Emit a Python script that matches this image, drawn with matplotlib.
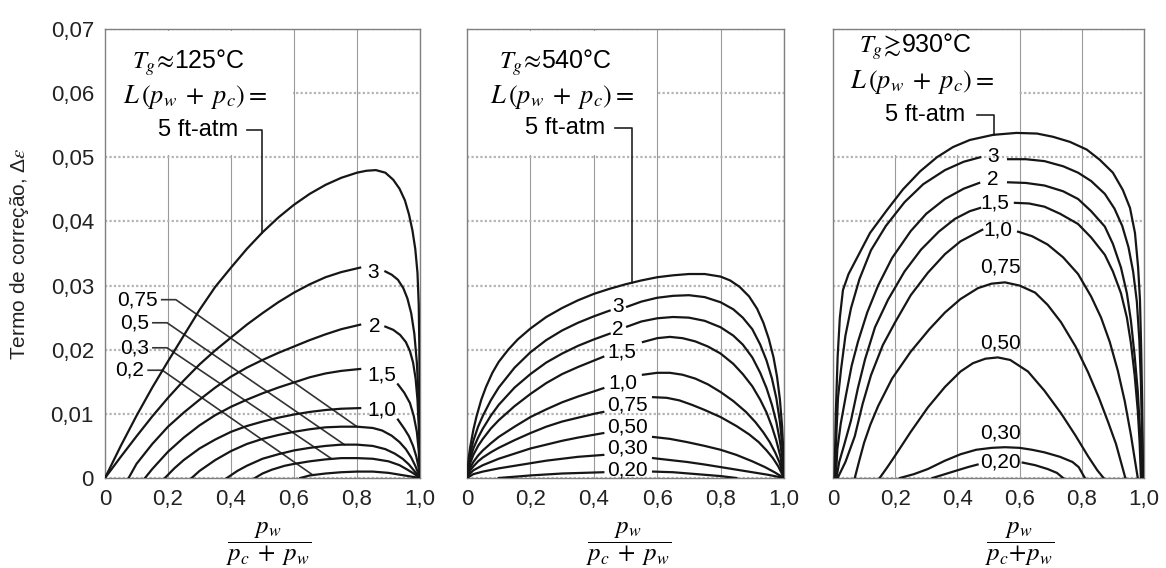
import numpy as np
import matplotlib.pyplot as plt
from matplotlib.patches import Rectangle

plt.rcParams['font.family'] = ['Liberation Sans', 'DejaVu Sans']
plt.rcParams['mathtext.fontset'] = 'stix'

# ------------------------------------------------------------------
# valores
# ------------------------------------------------------------------
x_ticks = [0, 0.2, 0.4, 0.6, 0.8, 1.0]
x_tick_labels = ['0', '0,2', '0,4', '0,6', '0,8', '1,0']
y_ticks = [0, 0.01, 0.02, 0.03, 0.04, 0.05, 0.06, 0.07]
y_tick_labels = ['0', '0,01', '0,02', '0,03', '0,04', '0,05', '0,06', '0,07']

# Tg ~ 125 C   (None = curva interrompida pelo rótulo)
c125_5 = [(0, 0), (0.05, 0.0050), (0.1, 0.0097), (0.15, 0.0141), (0.2, 0.0182), (0.25, 0.0222),
          (0.3, 0.0262), (0.35, 0.0298), (0.4, 0.0328), (0.45, 0.0357), (0.5, 0.0383), (0.55, 0.0406),
          (0.6, 0.0426), (0.65, 0.0443), (0.7, 0.0457), (0.75, 0.0468), (0.8, 0.0476), (0.83, 0.0479),
          (0.86, 0.0480), (0.89, 0.0476), (0.915, 0.0465), (0.935, 0.0451), (0.952, 0.0433),
          (0.965, 0.0411), (0.976, 0.0386), (0.985, 0.0357), (0.992, 0.0320), (0.996, 0.027),
          (0.998, 0.020), (0.999, 0.010), (1.0, 0)]
c125_3 = [(0, 0), (0.05, 0.0033), (0.1, 0.0065), (0.15, 0.0096), (0.2, 0.0125), (0.25, 0.0152),
          (0.3, 0.0177), (0.35, 0.0199), (0.4, 0.0219), (0.45, 0.0239), (0.5, 0.0257), (0.55, 0.0274),
          (0.6, 0.0289), (0.65, 0.0302), (0.7, 0.0313), (0.75, 0.0321), (0.81, 0.0328), None,
          (0.89, 0.0322), (0.91, 0.0317), (0.93, 0.0309), (0.947, 0.0296), (0.96, 0.0280),
          (0.972, 0.0257), (0.982, 0.0225), (0.99, 0.0180), (0.995, 0.0130), (0.998, 0.0070), (1.0, 0)]
c125_2 = [(0.075, 0), (0.1, 0.0022), (0.15, 0.0053), (0.2, 0.0080), (0.25, 0.0102), (0.3, 0.0122),
          (0.35, 0.0141), (0.4, 0.0158), (0.45, 0.0172), (0.5, 0.0184), (0.55, 0.0195), (0.6, 0.0205),
          (0.65, 0.0215), (0.7, 0.0224), (0.75, 0.0232), (0.81, 0.0239), None, (0.89, 0.0236),
          (0.915, 0.0231), (0.937, 0.0223), (0.955, 0.0212), (0.968, 0.0198), (0.978, 0.0180),
          (0.986, 0.0155), (0.992, 0.0122), (0.996, 0.0080), (1.0, 0)]
c125_15 = [(0.127, 0), (0.15, 0.0014), (0.2, 0.0041), (0.25, 0.0063), (0.3, 0.0082), (0.35, 0.0098),
           (0.4, 0.0111), (0.45, 0.0122), (0.5, 0.0132), (0.55, 0.0141), (0.6, 0.0149), (0.65, 0.0157),
           (0.7, 0.0163), (0.75, 0.0167), (0.81, 0.0170), None, (0.93, 0.0146), (0.95, 0.0133),
           (0.968, 0.0117), (0.98, 0.0097), (0.99, 0.0072), (0.996, 0.0042), (1.0, 0)]
c125_10 = [(0.19, 0), (0.22, 0.0015), (0.25, 0.0028), (0.3, 0.0046), (0.35, 0.0060), (0.4, 0.0072),
           (0.45, 0.0081), (0.5, 0.0088), (0.55, 0.0094), (0.6, 0.0099), (0.65, 0.0103), (0.7, 0.0106),
           (0.75, 0.0108), (0.81, 0.0109), None, (0.93, 0.0091), (0.95, 0.0077), (0.965, 0.0065),
           (0.978, 0.0050), (0.988, 0.0034), (0.995, 0.0018), (1.0, 0)]
c125_075 = [(0.275, 0), (0.3, 0.0011), (0.35, 0.0028), (0.4, 0.0042), (0.45, 0.0053), (0.5, 0.0061),
            (0.55, 0.0067), (0.6, 0.0072), (0.65, 0.0076), (0.7, 0.0079), (0.75, 0.0080), (0.8, 0.0080),
            (0.85, 0.0078), (0.88, 0.0074), (0.91, 0.0066), (0.935, 0.0056), (0.955, 0.0045),
            (0.972, 0.0032), (0.986, 0.0018), (1.0, 0)]
c125_05 = [(0.387, 0), (0.42, 0.0011), (0.45, 0.0019), (0.5, 0.0030), (0.55, 0.0037), (0.6, 0.0043),
           (0.65, 0.0047), (0.7, 0.0050), (0.75, 0.0052), (0.8, 0.0052), (0.85, 0.0050), (0.89, 0.0045),
           (0.92, 0.0038), (0.945, 0.0030), (0.965, 0.0021), (0.982, 0.0011), (1.0, 0)]
c125_03 = [(0.476, 0), (0.5, 0.0007), (0.53, 0.0013), (0.57, 0.0019), (0.6, 0.0022), (0.65, 0.0026),
           (0.7, 0.0029), (0.75, 0.0031), (0.8, 0.0031), (0.85, 0.0030), (0.9, 0.0026), (0.935, 0.0020),
           (0.96, 0.0013), (0.98, 0.0007), (1.0, 0)]
c125_02 = [(0.62, 0), (0.65, 0.0004), (0.7, 0.0007), (0.75, 0.0009), (0.8, 0.0010), (0.85, 0.0010),
           (0.9, 0.0008), (0.95, 0.0004), (1.0, 0)]
curves_125 = [c125_5, c125_3, c125_2, c125_15, c125_10, c125_075, c125_05, c125_03, c125_02]
inline_125 = ['3', '2', '1,5', '1,0']
inline_125_pos = [(0.851, 0.0321), (0.857, 0.0236), (0.88, 0.0161), (0.88, 0.0106)]
side_125 = ['0,75', '0,5', '0,3', '0,2']
side_125_y = [0.0278, 0.0242, 0.0203, 0.0168]
side_125_start = [0.18, 0.152, 0.152, 0.137]
side_125_end = [0.80, 0.76, 0.72, 0.66]     # onde a linha de chamada toca a curva
side_125_curves = [c125_075, c125_05, c125_03, c125_02]

# Tg ~ 540 C
c540_5 = [(0, 0), (0.005, 0.0030), (0.01, 0.0048), (0.02, 0.0075), (0.03, 0.0096), (0.045, 0.0122),
          (0.06, 0.0142), (0.08, 0.0164), (0.1, 0.0181), (0.13, 0.0200), (0.16, 0.0216), (0.2, 0.0233),
          (0.25, 0.0251), (0.3, 0.0265), (0.35, 0.0277), (0.4, 0.0287), (0.45, 0.0295), (0.5, 0.0302),
          (0.55, 0.0308), (0.6, 0.0313), (0.65, 0.0316), (0.7, 0.0318), (0.75, 0.0318), (0.8, 0.0314),
          (0.83, 0.0308), (0.86, 0.0298), (0.89, 0.0283), (0.915, 0.0264), (0.935, 0.0242),
          (0.952, 0.0217), (0.967, 0.0188), (0.978, 0.0158), (0.987, 0.0123), (0.994, 0.0080),
          (0.998, 0.0040), (1.0, 0)]
c540_3 = [(0, 0), (0.01, 0.0038), (0.02, 0.0058), (0.035, 0.0080), (0.05, 0.0097), (0.075, 0.0121),
          (0.1, 0.0141), (0.15, 0.0172), (0.2, 0.0196), (0.25, 0.0215), (0.3, 0.0230), (0.35, 0.0242),
          (0.4, 0.0252), (0.45, 0.0261), None, (0.505, 0.0267), (0.55, 0.0275), (0.6, 0.0281),
          (0.65, 0.0284), (0.7, 0.0285), (0.75, 0.0282), (0.8, 0.0274), (0.84, 0.0263), (0.87, 0.0250),
          (0.9, 0.0232), (0.925, 0.0208), (0.945, 0.0183), (0.962, 0.0155), (0.976, 0.0124),
          (0.987, 0.0088), (0.995, 0.0048), (1.0, 0)]
c540_2 = [(0, 0), (0.01, 0.0030), (0.02, 0.0046), (0.035, 0.0063), (0.05, 0.0077), (0.075, 0.0097),
          (0.1, 0.0114), (0.15, 0.0141), (0.2, 0.0162), (0.25, 0.0180), (0.3, 0.0194), (0.35, 0.0206),
          (0.4, 0.0216), (0.45, 0.0225), None, (0.505, 0.0236), (0.55, 0.0244), (0.6, 0.0249),
          (0.65, 0.0251), (0.7, 0.0250), (0.75, 0.0245), (0.8, 0.0235), (0.84, 0.0222), (0.87, 0.0208),
          (0.9, 0.0188), (0.925, 0.0164), (0.945, 0.0140), (0.962, 0.0114), (0.976, 0.0087),
          (0.987, 0.0058), (0.995, 0.0030), (1.0, 0)]
c540_15 = [(0, 0), (0.01, 0.0023), (0.02, 0.0036), (0.035, 0.0050), (0.05, 0.0061), (0.075, 0.0077),
           (0.1, 0.0090), (0.15, 0.0112), (0.2, 0.0131), (0.25, 0.0148), (0.3, 0.0162), (0.35, 0.0173),
           (0.4, 0.0183), (0.43, 0.0189), None, (0.555, 0.0212), (0.6, 0.0218), (0.64, 0.0220),
           (0.68, 0.0218), (0.72, 0.0213), (0.76, 0.0205), (0.8, 0.0194), (0.84, 0.0178), (0.87, 0.0162),
           (0.9, 0.0143), (0.925, 0.0122), (0.945, 0.0102), (0.962, 0.0080), (0.976, 0.0058),
           (0.988, 0.0035), (1.0, 0)]
c540_10 = [(0, 0), (0.01, 0.0016), (0.02, 0.0025), (0.035, 0.0035), (0.05, 0.0043), (0.075, 0.0054),
           (0.1, 0.0064), (0.15, 0.0080), (0.2, 0.0095), (0.25, 0.0107), (0.3, 0.0118), (0.35, 0.0127),
           (0.4, 0.0135), (0.43, 0.0140), None, (0.555, 0.0161), (0.6, 0.0164), (0.64, 0.0164),
           (0.68, 0.0161), (0.72, 0.0155), (0.76, 0.0146), (0.8, 0.0134), (0.84, 0.0120), (0.88, 0.0103),
           (0.91, 0.0087), (0.935, 0.0071), (0.955, 0.0056), (0.972, 0.0040), (0.986, 0.0024), (1.0, 0)]
c540_075 = [(0, 0), (0.01, 0.0012), (0.02, 0.0018), (0.035, 0.0026), (0.05, 0.0032), (0.075, 0.0040),
            (0.1, 0.0047), (0.15, 0.0059), (0.2, 0.0070), (0.25, 0.0080), (0.3, 0.0088), (0.35, 0.0094),
            (0.4, 0.0100), (0.43, 0.0103), None, (0.587, 0.0126), (0.63, 0.0125), (0.67, 0.0121),
            (0.71, 0.0114), (0.75, 0.0106), (0.8, 0.0095), (0.85, 0.0081), (0.89, 0.0068), (0.92, 0.0056),
            (0.945, 0.0043), (0.965, 0.0031), (0.982, 0.0018), (1.0, 0)]
c540_05 = [(0, 0), (0.01, 0.0007), (0.02, 0.0012), (0.05, 0.0020), (0.1, 0.0030), (0.15, 0.0038),
           (0.2, 0.0046), (0.25, 0.0052), (0.3, 0.0058), (0.35, 0.0063), (0.43, 0.0070), None,
           (0.587, 0.0064), (0.64, 0.0061), (0.694, 0.0056), (0.75, 0.0050), (0.8, 0.0044), (0.85, 0.0036),
           (0.9, 0.0026), (0.94, 0.0017), (0.97, 0.0009), (1.0, 0)]
c540_03 = [(0, 0), (0.02, 0.0006), (0.05, 0.0010), (0.1, 0.0015), (0.15, 0.0019), (0.2, 0.0023),
           (0.25, 0.0027), (0.3, 0.0030), (0.35, 0.0033), (0.43, 0.0036), None, (0.587, 0.0031),
           (0.64, 0.0028), (0.694, 0.0025), (0.75, 0.0021), (0.8, 0.0017), (0.85, 0.0013), (0.9, 0.0009),
           (0.95, 0.0005), (1.0, 0)]
c540_02 = [(0.1, 0), (0.15, 0.0002), (0.2, 0.0004), (0.3, 0.0007), (0.43, 0.0009), None,
           (0.587, 0.0010), (0.65, 0.0009), (0.7, 0.0007), (0.75, 0.0005), (0.8, 0.0003), (0.85, 0)]
curves_540 = [c540_5, c540_3, c540_2, c540_15, c540_10, c540_075, c540_05, c540_03, c540_02]
inline_540 = ['3', '2', '1,5', '1,0', '0,75', '0,50', '0,30', '0,20']
inline_540_pos = [(0.476, 0.0267), (0.476, 0.0231), (0.489, 0.0197), (0.493, 0.0148),
                  (0.505, 0.0114), (0.505, 0.0080), (0.505, 0.0047), (0.505, 0.0012)]

# Tg >~ 930 C
c930_5 = [(0.005, 0), (0.009, 0.010), (0.015, 0.019), (0.022, 0.025), (0.032, 0.0293), (0.05, 0.0318),
          (0.077, 0.0343), (0.119, 0.0382), (0.174, 0.0418), (0.225, 0.0450), (0.28, 0.0478),
          (0.334, 0.0500), (0.386, 0.0516), (0.44, 0.0527), (0.515, 0.0535), (0.59, 0.0538),
          (0.656, 0.0537), (0.707, 0.0532), (0.762, 0.0524), (0.816, 0.0512), (0.858, 0.0496),
          (0.9, 0.0476), (0.932, 0.0449), (0.955, 0.0421), (0.971, 0.0382), (0.981, 0.0329),
          (0.987, 0.0278), (0.991, 0.020), (0.994, 0.012), (0.996, 0.005), (0.997, 0)]
c930_3 = [(0.007, 0), (0.011, 0.007), (0.016, 0.0125), (0.026, 0.0170), (0.04, 0.0222), (0.058, 0.0265),
          (0.085, 0.0310), (0.122, 0.0355), (0.17, 0.0393), (0.23, 0.0430), (0.29, 0.0458),
          (0.36, 0.0480), (0.42, 0.0493), (0.473, 0.0500), None, (0.563, 0.0497), (0.62, 0.0497),
          (0.68, 0.0494), (0.74, 0.0486), (0.788, 0.0476), (0.83, 0.0463), (0.874, 0.0443),
          (0.905, 0.0420), (0.93, 0.0393), (0.95, 0.0360), (0.965, 0.0322), (0.977, 0.0275),
          (0.985, 0.0215), (0.99, 0.0150), (0.993, 0.0080), (0.995, 0)]
c930_2 = [(0.009, 0), (0.014, 0.0045), (0.025, 0.0085), (0.042, 0.0130), (0.06, 0.0175), (0.08, 0.0212),
          (0.11, 0.0258), (0.145, 0.0300), (0.19, 0.0343), (0.25, 0.0385), (0.3, 0.0412), (0.36, 0.0435),
          (0.42, 0.0451), (0.47, 0.0460), None, (0.563, 0.0461), (0.62, 0.0460), (0.68, 0.0456),
          (0.74, 0.0447), (0.788, 0.0435), (0.83, 0.0416), (0.874, 0.0392), (0.9, 0.0365),
          (0.926, 0.0328), (0.945, 0.0288), (0.958, 0.0245), (0.97, 0.0190), (0.98, 0.0135),
          (0.987, 0.0075), (0.991, 0.0025), (0.993, 0)]
c930_15 = [(0.011, 0), (0.02, 0.0025), (0.035, 0.0050), (0.058, 0.0090), (0.08, 0.0140), (0.103, 0.0185),
           (0.135, 0.0235), (0.177, 0.0278), (0.23, 0.0322), (0.283, 0.0356), (0.34, 0.0384),
           (0.392, 0.0404), (0.44, 0.0416), (0.473, 0.0421), None, (0.585, 0.0429), (0.63, 0.0428),
           (0.68, 0.0423), (0.73, 0.0412), (0.788, 0.0396), (0.83, 0.0375), (0.874, 0.0348),
           (0.9, 0.0322), (0.926, 0.0288), (0.945, 0.0250), (0.958, 0.0210), (0.97, 0.0160),
           (0.98, 0.0105), (0.986, 0.0055), (0.99, 0)]
c930_10 = [(0.015, 0), (0.04, 0.0025), (0.07, 0.0065), (0.095, 0.0115), (0.122, 0.0160), (0.16, 0.0207),
           (0.2, 0.0243), (0.25, 0.0285), (0.305, 0.0320), (0.36, 0.0349), (0.41, 0.0369),
           (0.48, 0.0387), None, (0.595, 0.0384), (0.64, 0.0377), (0.69, 0.0364), (0.74, 0.0344),
           (0.788, 0.0318), (0.83, 0.0283), (0.862, 0.0250), (0.89, 0.0212), (0.916, 0.0167),
           (0.938, 0.0120), (0.958, 0.0067), (0.97, 0.0030), (0.98, 0)]
c930_075 = [(0.07, 0), (0.085, 0.0028), (0.1, 0.0055), (0.12, 0.0083), (0.145, 0.0112), (0.19, 0.0155),
            (0.25, 0.0197), (0.31, 0.0232), (0.36, 0.0258), (0.41, 0.0279), (0.466, 0.0296),
            (0.51, 0.0303), (0.553, 0.0305), (0.6, 0.0300), (0.65, 0.0289), (0.69, 0.0270),
            (0.733, 0.0243), (0.78, 0.0205), (0.82, 0.0165), (0.855, 0.0125), (0.884, 0.0088),
            (0.91, 0.0053), (0.94, 0)]
c930_05 = [(0.15, 0), (0.175, 0.0017), (0.2, 0.0035), (0.25, 0.0072), (0.305, 0.0110), (0.36, 0.0142),
           (0.41, 0.0166), (0.45, 0.0179), (0.49, 0.0186), (0.53, 0.0188), (0.57, 0.0184), (0.627, 0.0166),
           (0.68, 0.0136), (0.733, 0.0101), (0.78, 0.0066), (0.82, 0.0034), (0.85, 0.0012), (0.87, 0)]
c930_03 = [(0.215, 0), (0.26, 0.0006), (0.305, 0.0014), (0.36, 0.0027), (0.41, 0.0037), (0.46, 0.0044),
           (0.51, 0.0047), (0.553, 0.0048), (0.6, 0.0047), (0.64, 0.0044), (0.68, 0.0040), (0.73, 0.0033),
           (0.77, 0.0025), (0.79, 0.0017), (0.81, 0)]
c930_02 = [(0.32, 0), (0.36, 0.0006), (0.4, 0.0012), (0.434, 0.0017), (0.465, 0.0021), None,
           (0.61, 0.0024), (0.65, 0.0020), (0.69, 0.0014), (0.72, 0.0008), (0.74, 0)]
curves_930 = [c930_5, c930_3, c930_2, c930_15, c930_10, c930_075, c930_05, c930_03, c930_02]
inline_930 = ['3', '2', '1,5', '1,0', '0,75', '0,50', '0,30', '0,20']
inline_930_pos = [(0.514, 0.0501), (0.514, 0.0465), (0.52, 0.0429), (0.53, 0.0387),
                  (0.537, 0.0329), (0.537, 0.0211), (0.537, 0.0070), (0.537, 0.0025)]

temps = [r'$T_g\!\approx\!$125°C', r'$T_g\!\approx\!$540°C', r'$T_g\!\gtrsim\!$930°C']


def plot_curve(ax, pts):
    xs = [np.nan if p is None else p[0] for p in pts]
    ys = [np.nan if p is None else p[1] for p in pts]
    ax.plot(xs, ys, color='#161616', lw=1.6, solid_joinstyle='round', zorder=3)


def y_on(pts, x):
    good = [p for p in pts if p is not None]
    return np.interp(x, [p[0] for p in good], [p[1] for p in good])


fig = plt.figure(figsize=(11.66, 5.68), dpi=100)
lefts = [105 / 1166, 467 / 1166, 833 / 1166]
widths = [315 / 1166, 317 / 1166, 311 / 1166]
axes = [fig.add_axes([l, 90 / 568, w, 449 / 568]) for l, w in zip(lefts, widths)]

for i, ax in enumerate(axes):
    ax.set_xlim(0, 1.0)
    ax.set_ylim(0, 0.07)
    ax.set_xticks(x_ticks)
    ax.set_xticklabels(x_tick_labels)
    ax.set_yticks(y_ticks)
    ax.set_yticklabels(y_tick_labels)
    ax.tick_params(length=0, labelsize=16, pad=8, colors='#222222')
    if i > 0:
        ax.tick_params(labelleft=False)
    ax.set_axisbelow(True)
    ax.grid(axis='x', color='#9a9a9a', lw=0.8)
    ax.grid(axis='y', color='#b4b4b4', lw=1.6, ls=(0, (1, 1)))
    for s in ax.spines.values():
        s.set_color('#808080')
        s.set_linewidth(1.0)
    # área do texto sem grade
    ax.add_patch(Rectangle((0.003, 0.0503), 0.594, 0.0194, facecolor='white',
                           edgecolor='none', zorder=0.8))

# --- painel 1 ---
ax = axes[0]
for c in curves_125:
    plot_curve(ax, c)
for lab, (x, y) in zip(inline_125, inline_125_pos):
    ax.text(x, y, lab, fontsize=15, ha='center', va='center', zorder=4)
for lab, y, xs, xe, c in zip(side_125, side_125_y, side_125_start, side_125_end, side_125_curves):
    ax.text(xs - 0.012, y, lab, fontsize=15, ha='right', va='center', zorder=4)
    ax.plot([xs, xs + 0.045, xe], [y, y, y_on(c, xe)], color='#333333', lw=1.2, zorder=2.5)

# --- painel 2 e 3 ---
for ax, curves, labs, pos in [(axes[1], curves_540, inline_540, inline_540_pos),
                              (axes[2], curves_930, inline_930, inline_930_pos)]:
    for c in curves:
        plot_curve(ax, c)
    for lab, (x, y) in zip(labs, pos):
        ax.text(x, y, lab, fontsize=15, ha='center', va='center', zorder=4)

# --- cabeçalhos e chamada de 5 ft-atm ---
head_x = [0.285, 0.30, 0.285]
head_y = [(0.0647, 0.0594, 0.0543), (0.0647, 0.0594, 0.0546), (0.0672, 0.0618, 0.0566)]
lead_x = [(0.45, 0.498), (0.467, 0.52), (0.463, 0.518)]
for ax, t, hx, hy, lx, c5 in zip(axes, temps, head_x, head_y, lead_x,
                                 [c125_5, c540_5, c930_5]):
    ax.text(hx - 0.02, hy[0], t, fontsize=18, ha='center', va='center')
    ax.text(hx, hy[1], r'$L\,(p_w\;+\;p_c) =$', fontsize=19, ha='center', va='center')
    ax.text(hx + 0.01, hy[2], '5 ft-atm', fontsize=17, ha='center', va='center')
    ax.plot([lx[0], lx[1], lx[1]], [hy[2], hy[2], y_on(c5, lx[1])], color='#222222', lw=1.2)

# rótulos dos eixos
frac_x = [0.52, 0.51, 0.60]
frac_txt = [r'$\dfrac{p_w}{p_c\;+\;p_w}$', r'$\dfrac{p_w}{p_c\;+\;p_w}$', r'$\dfrac{p_w}{p_c\!+\!p_w}$']
for ax, fx, ft in zip(axes, frac_x, frac_txt):
    ax.text(fx, -0.147, ft, transform=ax.transAxes, fontsize=18, ha='center', va='center')
axes[0].set_ylabel('Termo de correção, Δ$\\epsilon$', fontsize=15, color='#222222')
axes[0].yaxis.set_label_coords(-0.235, 0.5)

fig.savefig('out.png', dpi=100, facecolor='white')
